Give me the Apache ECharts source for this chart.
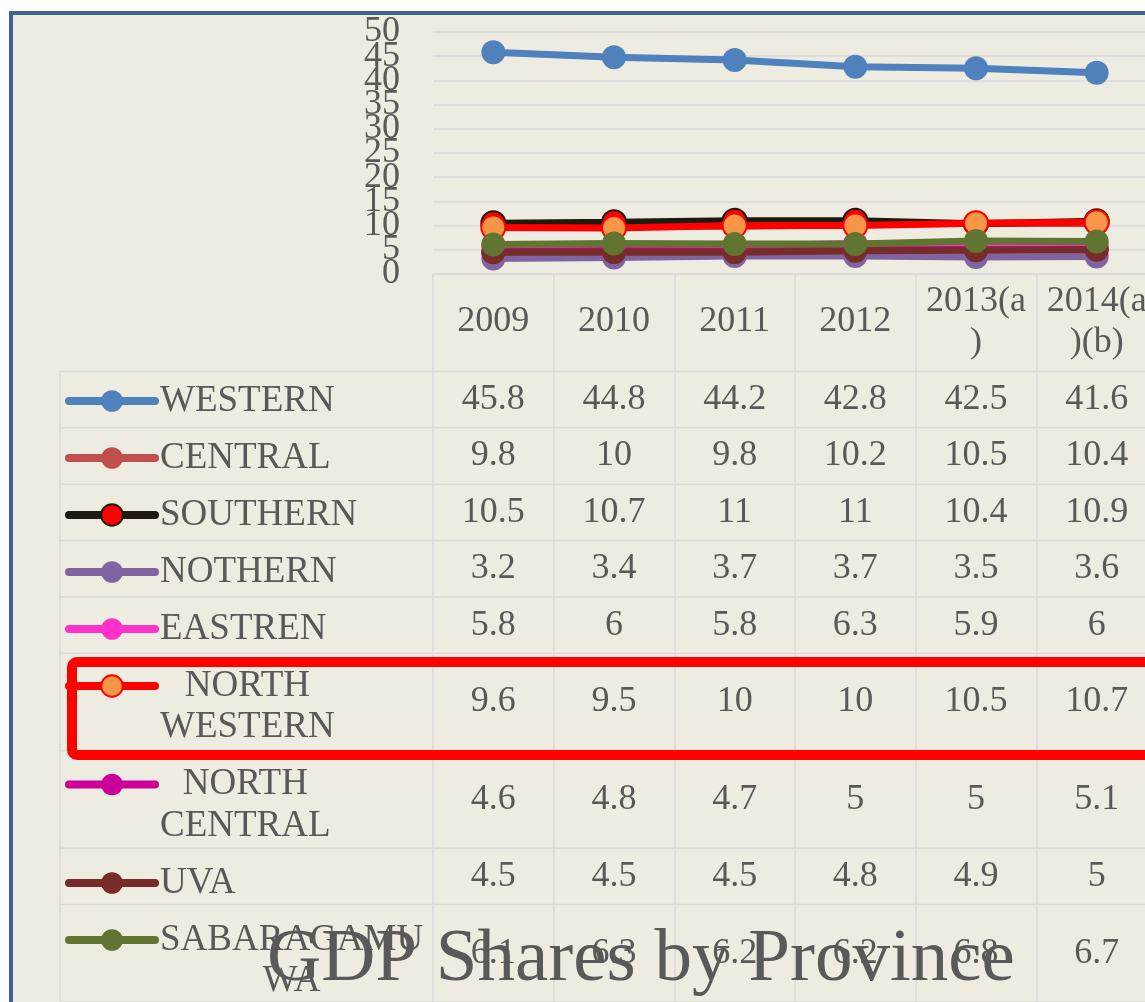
<!DOCTYPE html>
<html><head><meta charset="utf-8">
<script src="https://cdn.jsdelivr.net/npm/echarts@6/dist/echarts.min.js"></script>
<style>
html,body{margin:0;padding:0;background:#fff;overflow:hidden;width:1145px;height:1002px;}
#frame{position:absolute;left:9px;top:11px;width:1200px;height:1100px;border:4px solid #3F6395;background:#EEECE1;}
#chart{position:absolute;left:0;top:0;width:1170px;height:1002px;}
</style></head><body>
<div id="frame"></div><div id="chart"></div>
<script>
// ---- data ----
const years = ['2009', '2010', '2011', '2012', '2013(a)', '2014(a)(b)'];
const provinces = ['WESTERN', 'CENTRAL', 'SOUTHERN', 'NOTHERN', 'EASTREN', 'NORTH WESTERN', 'NORTH CENTRAL', 'UVA', 'SABARAGAMUWA'];
const western      = [45.8, 44.8, 44.2, 42.8, 42.5, 41.6];
const central      = [9.8, 10, 9.8, 10.2, 10.5, 10.4];
const southern     = [10.5, 10.7, 11, 11, 10.4, 10.9];
const nothern      = [3.2, 3.4, 3.7, 3.7, 3.5, 3.6];
const eastren      = [5.8, 6, 5.8, 6.3, 5.9, 6];
const northWestern = [9.6, 9.5, 10, 10, 10.5, 10.7];
const northCentral = [4.6, 4.8, 4.7, 5, 5, 5.1];
const uva          = [4.5, 4.5, 4.5, 4.8, 4.9, 5];
const sabaragamuwa = [6.1, 6.3, 6.2, 6.2, 6.8, 6.7];
const yMin = 0, yMax = 50, yStep = 5;
const chartTitle = 'GDP Shares by Province';

const seriesValues = [western, central, southern, nothern, eastren, northWestern, northCentral, uva, sabaragamuwa];

// ---- styles ----
const FONT = 'Liberation Serif';
const TXT = '#595959';
const GRIDC = '#D9D9D9';
const lineColors   = ['#4F81BD', '#C0504D', '#1D1B10', '#8064A2', '#FF33CC', '#FF0000', '#CC0099', '#772C2A', '#5F7530'];
const markerColors = ['#4F81BD', '#C0504D', '#FF0000', '#8064A2', '#FF33CC', '#F79646', '#CC0099', '#772C2A', '#5F7530'];
const markerBorder = [null, null, '#1D1B10', null, null, '#FF0000', null, null, null];

// ---- table layout ----
const PAD = 15.5, LINE = 41.5;
const PLOT_LEFT = 433, PLOT_TOP = 32, PLOT_W = 724, PLOT_H = 242;
const LABEL_COL_W = 373;
const TABLE_TOP = PLOT_TOP + PLOT_H;

function wrapChars(t, max) {
  const out = [];
  for (let i = 0; i < t.length; i += max) out.push(t.slice(i, i + max));
  return out;
}
function wrapWords(t, max) {
  const out = [];
  let cur = '';
  t.split(' ').forEach(w => {
    const cand = cur ? cur + ' ' + w : w;
    if (cand.length <= max) { cur = cand; return; }
    if (cur) out.push(cur);
    const chunks = wrapChars(w, max);
    cur = chunks.pop();
    chunks.forEach(c => out.push(c));
  });
  if (cur) out.push(cur);
  return out;
}
const headerLines = years.map(y => wrapChars(y, 6));
const labelLines = provinces.map(p => wrapWords(p, 10));
const rowLineCounts = [Math.max(...headerLines.map(l => l.length))].concat(labelLines.map(l => l.length));
const rowHeights = rowLineCounts.map(n => PAD + LINE * n);
const rowTops = [0];
rowHeights.forEach(h => rowTops.push(rowTops[rowTops.length - 1] + h));
const tableH = rowTops[rowTops.length - 1];

// cells
const cellData = [];
seriesValues.forEach((vals, r) => {
  vals.forEach((v, c) => cellData.push([c, rowTops[r + 1] + rowHeights[r + 1] / 2, v]));
});
// table rules: [cat, y, kind]  kind 0: header top, 1: full row line, 2: left border
const ruleData = rowTops.map((y, i) => [0, y, i === 0 ? 0 : 1]);
ruleData.push([0, rowTops[1], 2]);

const chart = echarts.init(document.getElementById('chart'), null, { renderer: 'canvas' });

const lineSeries = provinces.map((name, i) => ({
  name: name,
  type: 'line',
  xAxisIndex: 0, yAxisIndex: 0,
  data: seriesValues[i],
  symbol: 'circle',
  symbolSize: 24,
  lineStyle: { color: lineColors[i], width: 7, cap: 'round' },
  itemStyle: Object.assign({ color: markerColors[i] },
    markerBorder[i] ? { borderColor: markerBorder[i], borderWidth: 2 } : { borderWidth: 0 }),
  emphasis: { disabled: true },
  z: 3
}));

const legends = provinces.map((name, i) => {
  const lines = labelLines[i];
  const multi = lines.length > 1;
  const c = TABLE_TOP + rowTops[i + 1] + PAD / 2 + LINE / 2;
  return {
    data: [name],
    orient: 'vertical',
    left: 65,
    top: multi ? c - 1.5 * LINE : c - LINE / 2,
    padding: 0,
    itemWidth: 86,
    itemHeight: 27,
    selectedMode: false,
    lineStyle: { width: 8, cap: 'round' },
    formatter: () => lines.map(l => '{c|' + l + '}').join('\n'),
    textStyle: {
      fontFamily: FONT, fontSize: 37, color: TXT, lineHeight: LINE,
      padding: multi ? [LINE, 0, 0, 0] : 0,
      rich: { c: { align: 'center', fontFamily: FONT, fontSize: 37, color: TXT, lineHeight: LINE } }
    },
    z: 5
  };
});

// two label sets on the value axis (even / odd multiples of the step) so none are dropped
const yLabelStyle = { margin: 33, fontFamily: FONT, fontSize: 36, color: TXT };
const evenStep = v => Math.round(v / yStep) % 2 === 0;

const option = {
  backgroundColor: 'transparent',
  animation: false,
  title: {
    text: chartTitle,
    left: 262, top: 918,
    textStyle: { fontFamily: FONT, fontSize: 75, fontWeight: 'normal', color: TXT },
    z: 10
  },
  legend: legends,
  grid: [
    { left: PLOT_LEFT, top: PLOT_TOP, width: PLOT_W, height: PLOT_H, containLabel: false },
    { left: PLOT_LEFT, top: TABLE_TOP, width: PLOT_W, height: tableH, containLabel: false }
  ],
  xAxis: [
    {
      gridIndex: 0, type: 'category', data: years, boundaryGap: true,
      axisLine: { show: false }, axisTick: { show: false }, splitLine: { show: false },
      axisLabel: {
        margin: 48, verticalAlign: 'middle', interval: 0,
        fontFamily: FONT, fontSize: 36, color: TXT, lineHeight: LINE,
        formatter: v => wrapChars(v, 6).join('\n')
      }
    },
    {
      gridIndex: 1, type: 'category', data: years, boundaryGap: true,
      axisLine: { show: false }, axisTick: { show: false }, axisLabel: { show: false },
      splitLine: { show: true, interval: 0, lineStyle: { color: GRIDC, width: 1.5 } }
    }
  ],
  yAxis: [
    {
      gridIndex: 0, type: 'value', min: yMin, max: yMax, interval: yStep, position: 'left',
      axisLine: { show: false }, axisTick: { show: false },
      axisLabel: Object.assign({ showMinLabel: true, showMaxLabel: true, formatter: v => evenStep(v) ? String(v) : '' }, yLabelStyle),
      splitLine: { show: true, lineStyle: { color: GRIDC, width: 1.5 } }
    },
    {
      gridIndex: 1, type: 'value', min: 0, max: tableH, inverse: true, show: false,
      splitLine: { show: false }
    },
    {
      gridIndex: 0, type: 'value', min: yMin, max: yMax, interval: yStep, position: 'left', offset: 0,
      axisLine: { show: false }, axisTick: { show: false }, splitLine: { show: false },
      axisLabel: Object.assign({ formatter: v => evenStep(v) ? '' : String(v) }, yLabelStyle)
    }
  ],
  series: lineSeries.concat([
    {
      type: 'custom', name: 'rules', xAxisIndex: 1, yAxisIndex: 1,
      data: ruleData, encode: { x: 0, y: 1 }, clip: false, silent: true, z: 1,
      renderItem: (params, api) => {
        const cs = params.coordSys;
        const y = api.coord([0, api.value(1)])[1];
        const kind = api.value(2);
        const style = { stroke: GRIDC, lineWidth: 1.5 };
        if (kind === 2) {
          const x = cs.x - LABEL_COL_W;
          return { type: 'line', shape: { x1: x, y1: y, x2: x, y2: cs.y + cs.height }, style };
        }
        const x1 = kind === 0 ? cs.x : cs.x - LABEL_COL_W;
        return { type: 'line', shape: { x1: x1, y1: y, x2: cs.x + cs.width, y2: y }, style };
      }
    },
    {
      type: 'custom', name: 'cells', xAxisIndex: 1, yAxisIndex: 1,
      data: cellData, encode: { x: 0, y: 1 }, clip: false, silent: true, z: 2,
      renderItem: (params, api) => {
        const p = api.coord([api.value(0), api.value(1)]);
        return {
          type: 'text', x: p[0], y: p[1],
          style: { text: String(api.value(2)), fill: TXT, font: '36px "' + FONT + '"', align: 'center', verticalAlign: 'middle' }
        };
      }
    }
  ]),
  graphic: [
    {
      type: 'rect', z: 100, silent: true,
      shape: { x: 72, y: 662, width: 1200, height: 93, r: 5 },
      style: { fill: 'none', stroke: '#FF0000', lineWidth: 10 }
    }
  ]
};
chart.setOption(option);
</script>
</body></html>
